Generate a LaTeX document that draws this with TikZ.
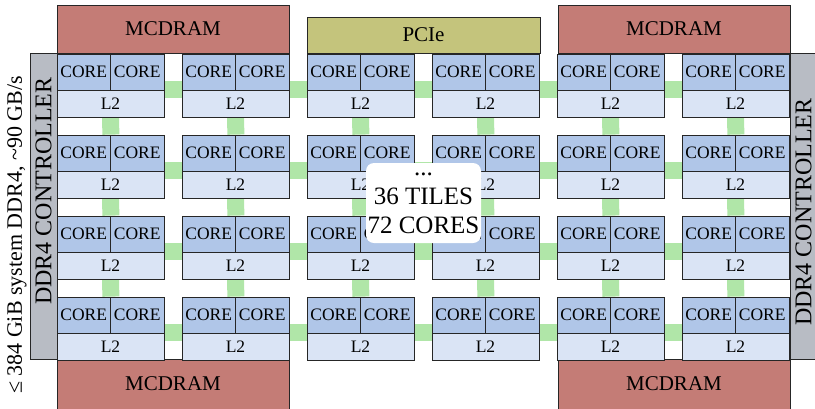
\documentclass[tikz,border=0pt]{standalone}
\usepackage{fontspec}
\setmainfont{Liberation Serif}
\usetikzlibrary{backgrounds}

\definecolor{mcdramred}{RGB}{196,124,118}
\definecolor{pcieolive}{RGB}{196,196,124}
\definecolor{coreblue}{RGB}{176,198,232}
\definecolor{cacheblue}{RGB}{218,228,245}
\definecolor{ctrlgray}{RGB}{184,188,196}
\definecolor{linkgreen}{RGB}{176,230,168}

\begin{document}
\begin{tikzpicture}[x=1pt, y=-1pt, line width=0.8pt]
      % Styles
      \tikzstyle{box} = [rectangle, draw=black!85, inner sep=0pt, text centered]
      \tikzstyle{mem} = [box, fill=mcdramred, minimum width=232pt, minimum height=48pt,
                         font=\fontsize{21}{24}\selectfont]
      \tikzstyle{core} = [box, fill=coreblue, minimum width=53.5pt, minimum height=36pt,
                          font=\fontsize{17.5}{20}\selectfont]
      \tikzstyle{cache} = [box, fill=cacheblue, minimum width=107pt, minimum height=27pt,
                           font=\fontsize{17.5}{20}\selectfont]
      \tikzstyle{ctrl} = [box, fill=ctrlgray, minimum width=27pt, minimum height=306pt]
      \tikzstyle{ctrltext} = [rotate=90, font=\fontsize{24}{26}\selectfont]
      \tikzstyle{link} = [draw=linkgreen, line width=17pt]

      \useasboundingbox (0,0) rectangle (815,408);

      % Nodes
      \node[mem] (mcdramtl) at (173,29) {MCDRAM};
      \node[mem, fill=pcieolive, minimum width=233pt, minimum height=36pt] (pcie) at (423.5,35) {PCIe};
      \node[mem] (mcdramtr) at (674,29) {MCDRAM};
      \node[mem, minimum height=50pt] (mcdrambl) at (173,384) {MCDRAM};
      \node[mem, minimum height=50pt] (mcdrambr) at (674,384) {MCDRAM};

      \node[ctrl] (ctrlleft) at (43.5,206) {};
      \node[ctrltext] (ctrllefttext) at (43.5,191) {DDR4 CONTROLLER};
      \node[ctrl] (ctrlright) at (803.5,206) {};
      \node[ctrltext] (ctrlrighttext) at (803.5,212) {DDR4 CONTROLLER};

      \node[rotate=90, font=\fontsize{22}{24}\selectfont] (bandwidth) at (17,235)
            {≤ 384 GiB system DDR4, \textasciitilde90 GB/s};

      \foreach \r in {1,...,4} {
        \foreach \c in {1,...,6} {
          \pgfmathsetmacro\xl{57+125*(\c-1)}
          \pgfmathsetmacro\yt{54+81*(\r-1)}
          \node[core] (ca-\r-\c) at (\xl+26.75,\yt+18) {CORE};
          \node[core] (cb-\r-\c) at (\xl+80.25,\yt+18) {CORE};
          \node[cache] (l2-\r-\c) at (\xl+53.5,\yt+49.5) {L2};
        }
      }

      % Links
      \begin{scope}[on background layer]
        \foreach \r in {1,...,4} {
          \foreach \c in {1,...,5} {
            \pgfmathtruncatemacro\nxt{\c+1}
            \draw[link] (l2-\r-\c.north east) -- (l2-\r-\nxt.north west);
          }
        }
        \foreach \r in {1,2,3} {
          \foreach \c in {1,...,6} {
            \pgfmathtruncatemacro\nxt{\r+1}
            \draw[link] (l2-\r-\c.south) -- (ca-\nxt-\c.north east);
          }
        }
      \end{scope}

      % Label
      \node[fill=white, rounded corners=8pt, minimum width=115pt, minimum height=80pt,
            inner sep=0pt, align=center, font=\fontsize{25}{29}\selectfont] (count) at (423.5,203)
            {...\\36 TILES\\72 CORES};
\end{tikzpicture}
\end{document}
